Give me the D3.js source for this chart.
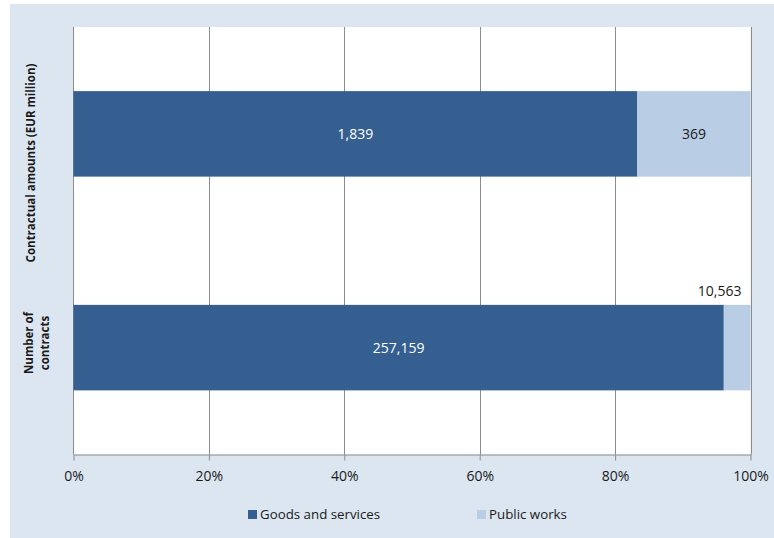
<!DOCTYPE html>
<html>
<head>
<meta charset="utf-8">
<script src="https://cdn.jsdelivr.net/npm/d3@7"></script>
<style>
  html, body { margin: 0; padding: 0; background: #ffffff; }
  svg { display: block; font-family: "Open Sans", "Liberation Sans", sans-serif; }
</style>
</head>
<body>
<svg id="chart" width="774" height="538"></svg>
<script>
// Categories (top to bottom) and the two stacked series
const categories = ["Contractual amounts (EUR million)", "Number of contracts"];
const goodsAndServices = [1839, 257159];
const publicWorks = [369, 10563];
const seriesNames = ["Goods and services", "Public works"];
const tickValues = [0, 0.2, 0.4, 0.6, 0.8, 1.0];

const colors = { goods: "#355f91", works: "#b9cde5", grid: "#8c8c8c", bg: "#dce6f1" };

const svg = d3.select("#chart");

// Chart background panel
svg.append("rect").attr("x", 10).attr("y", 4).attr("width", 764).attr("height", 534).attr("fill", colors.bg);

const plot = { left: 73.5, right: 750.5, top: 27, bottom: 454.5 };

svg.append("rect")
  .attr("x", plot.left).attr("y", plot.top)
  .attr("width", plot.right - plot.left).attr("height", plot.bottom - plot.top)
  .attr("fill", "#ffffff");

// Normalise each category to shares of its total
const rows = categories.map((c, i) => {
  const total = goodsAndServices[i] + publicWorks[i];
  return { cat: c, goods: goodsAndServices[i], works: publicWorks[i],
           gShare: goodsAndServices[i] / total, wShare: publicWorks[i] / total };
});

const x = d3.scaleLinear().domain([0, 1]).range([plot.left, plot.right]);
const y = d3.scaleBand().domain(categories).range([plot.top, plot.bottom])
  .paddingInner(0.6).paddingOuter(0.3);

// Vertical gridlines
svg.append("g").selectAll("line").data(tickValues.slice(1)).join("line")
  .attr("x1", d => Math.round(x(d)) + 0.5).attr("x2", d => Math.round(x(d)) + 0.5)
  .attr("y1", plot.top).attr("y2", plot.bottom)
  .attr("stroke", colors.grid).attr("stroke-width", 1);

// Bottom axis with outward ticks
const xAxis = d3.axisBottom(x).tickValues(tickValues).tickFormat(d3.format(".0%"))
  .tickSize(6).tickSizeOuter(0);
const gx = svg.append("g").attr("transform", `translate(0,${plot.bottom})`).call(xAxis);
gx.select(".domain").attr("stroke", colors.grid);
gx.selectAll(".tick line").attr("stroke", colors.grid);
gx.selectAll(".tick text").attr("fill", "#1a1a1a").attr("font-size", "14px")
  .attr("dy", "1.1em").attr("y", 11)
  .attr("font-family", "'Open Sans', sans-serif");

// Left axis line
svg.append("line").attr("x1", plot.left).attr("x2", plot.left)
  .attr("y1", plot.top).attr("y2", plot.bottom).attr("stroke", colors.grid);

// Stacked bars
const bars = svg.append("g");
bars.selectAll("rect.goods").data(rows).join("rect").attr("class", "goods")
  .attr("x", x(0)).attr("y", d => y(d.cat))
  .attr("width", d => x(d.gShare) - x(0)).attr("height", y.bandwidth())
  .attr("fill", colors.goods);
bars.selectAll("rect.works").data(rows).join("rect").attr("class", "works")
  .attr("x", d => x(d.gShare)).attr("y", d => y(d.cat))
  .attr("width", d => x(1) - x(d.gShare)).attr("height", y.bandwidth())
  .attr("fill", colors.works);

// Value labels
const fmt = d3.format(",");
const labels = svg.append("g").attr("font-size", "14px").attr("font-family", "'Open Sans', sans-serif");
labels.selectAll("text.g").data(rows).join("text")
  .attr("x", d => (x(0) + x(d.gShare)) / 2)
  .attr("y", d => y(d.cat) + y.bandwidth() / 2)
  .attr("dy", "0.35em").attr("text-anchor", "middle").attr("fill", "#ffffff")
  .text(d => fmt(d.goods));
labels.selectAll("text.w").data(rows).join("text")
  .attr("x", (d, i) => i === 0 ? (x(d.gShare) + x(1)) / 2 : x(1) - 9)
  .attr("y", (d, i) => i === 0 ? y(d.cat) + y.bandwidth() / 2 : y(d.cat) - 9)
  .attr("dy", (d, i) => i === 0 ? "0.35em" : "0")
  .attr("text-anchor", (d, i) => i === 0 ? "middle" : "end")
  .attr("fill", "#1a1a1a")
  .text(d => fmt(d.works));

// Category labels (rotated, bold)
const catLabels = [
  { lines: ["Contractual amounts (EUR million)"], cx: 31, cy: 163 },
  { lines: ["Number of", "contracts"], cx: 37, cy: 343 }
];
catLabels.forEach(c => {
  const t = svg.append("text")
    .attr("transform", `translate(${c.cx},${c.cy}) rotate(-90)`)
    .attr("text-anchor", "middle").attr("font-size", "11.5px").attr("font-weight", "bold")
    .attr("fill", "#1a1a1a");
  const n = c.lines.length;
  c.lines.forEach((ln, i) => {
    t.append("tspan").attr("x", 0).attr("dy", i === 0 ? `${(-(n - 1) * 1.45 / 2 + 0.35).toFixed(2)}em` : "1.45em").text(ln);
  });
});

// Legend
const legend = svg.append("g").attr("font-size", "13.3px");
const legendItems = [
  { name: seriesNames[0], color: colors.goods, x: 248 },
  { name: seriesNames[1], color: colors.works, x: 477 }
];
legendItems.forEach(it => {
  legend.append("rect").attr("x", it.x).attr("y", 510).attr("width", 9).attr("height", 9).attr("fill", it.color);
  legend.append("text").attr("x", it.x + 12).attr("y", 514.5).attr("dy", "0.35em")
    .attr("fill", "#1a1a1a").text(it.name);
});
</script>
</body>
</html>
